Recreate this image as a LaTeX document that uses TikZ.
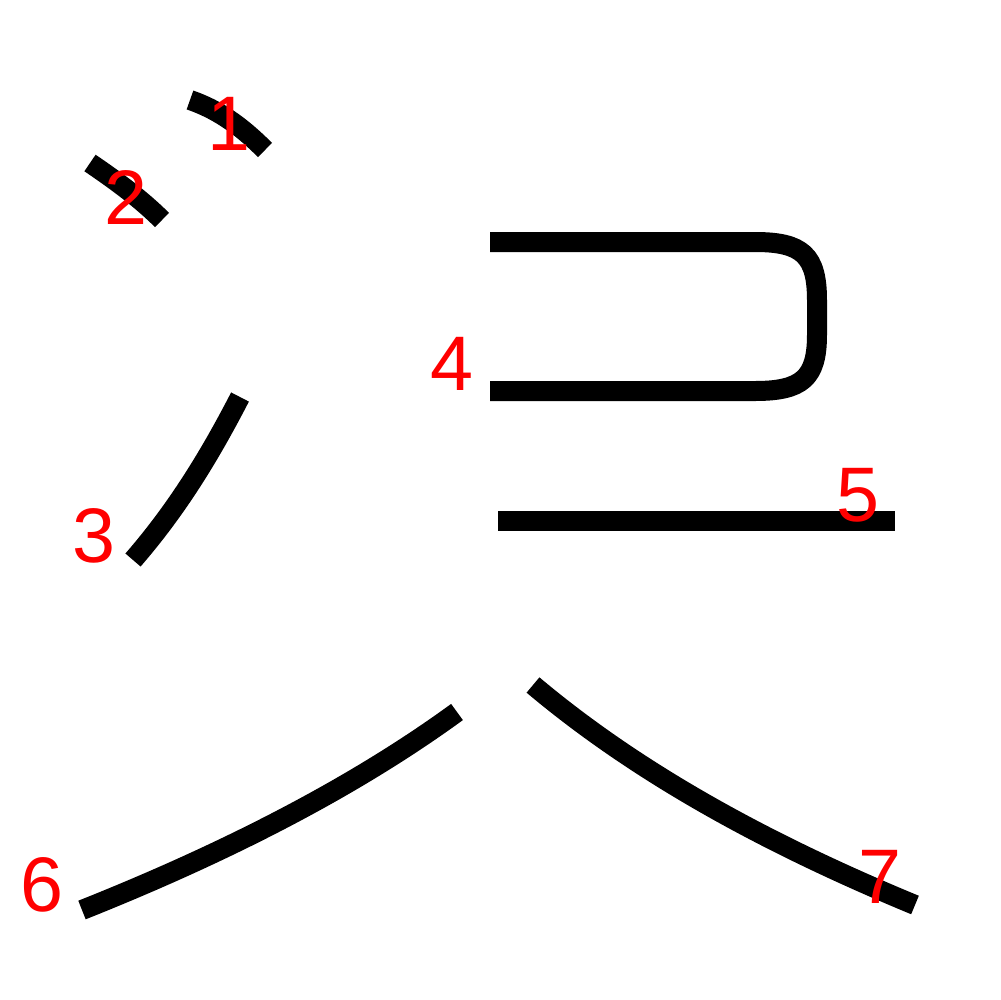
\documentclass[tikz,border=0pt]{standalone}
\usepackage{fontspec}
\setmainfont{Liberation Sans}
\usepackage{xcolor}

\begin{document}
\begin{tikzpicture}[x=0.1mm,y=-0.1mm,
    kstroke/.style={line width=2mm, black, line cap=butt, line join=round},
    snum/.style={red, inner sep=0pt, font=\fontsize{22}{26}\selectfont}]
\useasboundingbox (0,0) rectangle (1000,1000);
% strokes
\draw[kstroke] (190,100) .. controls (222,111) and (245,130) .. (265,150);
\draw[kstroke] (90,163) .. controls (118,182) and (142,200) .. (162,220);
\draw[kstroke] (240,397) .. controls (205,465) and (172,515) .. (133,560);
\draw[kstroke] (490,242) -- (755,242) .. controls (802,242) and (817,255) .. (817,300)
    -- (817,335) .. controls (817,378) and (802,391) .. (755,391) -- (490,391);
\draw[kstroke] (498,521) -- (895,521);
\draw[kstroke] (457,712) .. controls (350,790) and (220,855) .. (82,910);
\draw[kstroke] (533,685) .. controls (640,775) and (770,845) .. (915,905);
% numbers
\node[snum] (n1) at (229,124) {1};
\node[snum] (n2) at (126,197) {2};
\node[snum] (n3) at (94,536) {3};
\node[snum] (n4) at (452,364) {4};
\node[snum] (n5) at (858,495) {5};
\node[snum] (n6) at (42,885) {6};
\node[snum] (n7) at (880,877) {7};
\end{tikzpicture}
\end{document}
